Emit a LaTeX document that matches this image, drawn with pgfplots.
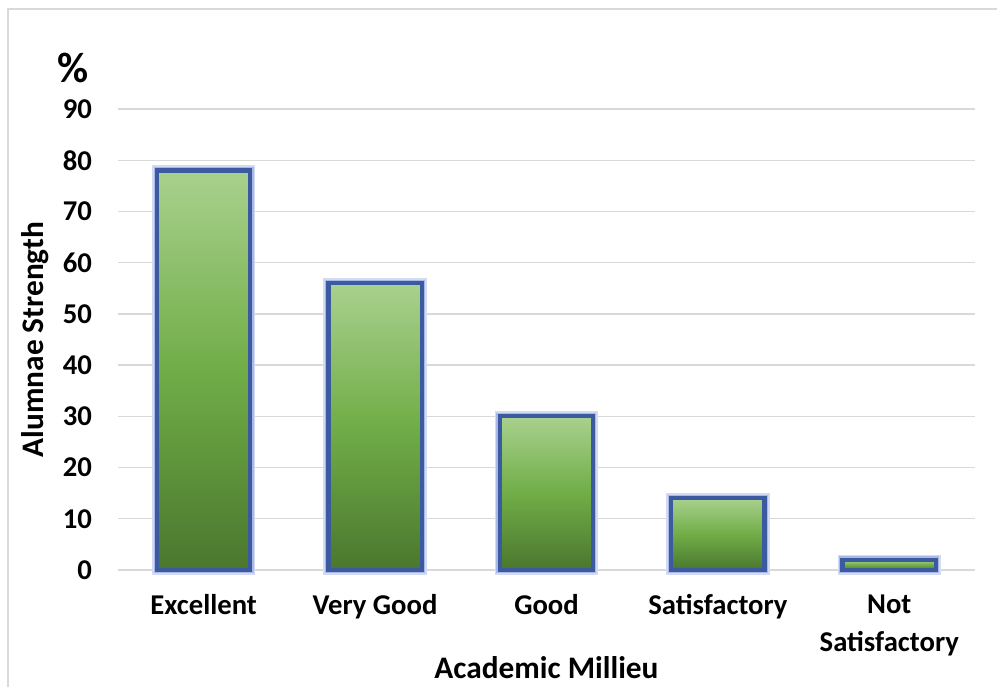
\documentclass[border=0pt]{standalone}
\usepackage{fontspec}
\setmainfont{Carlito}
\usepackage{pgfplots}
\pgfplotsset{compat=1.18}

\definecolor{gtop}{HTML}{A9D18E}
\definecolor{gmid}{HTML}{70AD47}
\definecolor{gbot}{HTML}{4A772E}
\definecolor{edge}{HTML}{3C5AA0}
\definecolor{glow}{HTML}{D3DBF4}
\definecolor{glowin}{HTML}{A9B8E6}
\definecolor{gridc}{HTML}{D9D9D9}

\pgfplotsset{
    glowbar/.style={ybar, bar width=70pt, bar shift=0pt, draw=glow, line width=7.5pt, fill=none, forget plot},
    glowbar2/.style={ybar, bar width=70pt, bar shift=0pt, draw=glowin, line width=5pt, fill=none, forget plot},
    % middle color must come after top/bottom color, which reset it
    greenbar/.style={ybar, bar width=70pt, bar shift=0pt, draw=edge, line width=3.2pt,
        top color=gtop, bottom color=gbot, middle color=gmid, forget plot},
}

\begin{document}
\begin{tikzpicture}
% frame around the picture (only left and top edges are visible)
\path[use as bounding box] (-88.5pt,-87.75pt) rectangle (659.25pt,427.5pt);
\draw[gridc, line width=1.2pt] (-82.5pt,-87.75pt) -- (-82.5pt,420.75pt) -- (659.25pt,420.75pt);

\begin{axis}[
    at={(0,0)}, anchor=south west,
    scale only axis,
    width=642.75pt, height=345.75pt,
    xmin=-0.5, xmax=4.5,
    ymin=0, ymax=90,
    xtick={0,1,2,3,4},
    xticklabels={Excellent, Very Good, Good, Satisfactory, Not\\Satisfactory},
    ytick={0,10,...,90},
    major tick length=0pt,
    axis line style={draw=none},
    ymajorgrids,
    grid style={gridc, line width=1pt},
    /pgf/number format/assume math mode=true,
    tick label style={font=\bfseries\fontsize{21.5}{29}\selectfont},
    xticklabel style={align=center, anchor=north, yshift=-15pt},
    yticklabel style={anchor=east, xshift=-16pt},
    ylabel={Alumnae Strength},
    ylabel style={at={(axis description cs:0,0.5)}, anchor=center, yshift=62pt, font=\bfseries\fontsize{23.5}{26}\selectfont},
    xlabel={Academic Millieu},
    xlabel style={at={(axis description cs:0.5,0)}, anchor=center, yshift=-73pt, font=\bfseries\fontsize{23.5}{26}\selectfont},
    clip=false,
]
% soft glow behind the bars
\addplot[glowbar] coordinates {(0,78) (1,56) (2,30) (3,14) (4,2)};
\addplot[glowbar2] coordinates {(0,78) (1,56) (2,30) (3,14) (4,2)};
% one plot per bar so that each bar gets its own gradient
\addplot[greenbar] coordinates {(0,78)};
\addplot[greenbar] coordinates {(1,56)};
\addplot[greenbar] coordinates {(2,30)};
\addplot[greenbar] coordinates {(3,14)};
\addplot[greenbar] coordinates {(4,2)};
\end{axis}

\node[font=\bfseries\fontsize{32}{34}\selectfont] at (-33.75pt,376.5pt) {\%};
\end{tikzpicture}
\end{document}
